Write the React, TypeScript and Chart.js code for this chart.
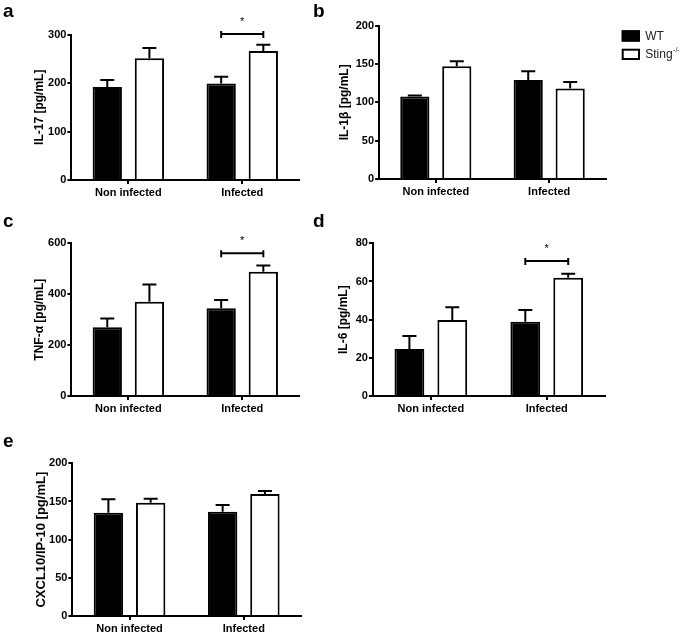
import React, { useEffect, useRef } from "react";
import { Chart, registerables } from "chart.js";

Chart.register(...registerables);

const CATEGORIES = ["Non infected", "Infected"];
const SERIES = ["WT", "Sting"];
const SERIES_SUPERSCRIPT = ["", "-/-"];

const IL17_WT = [192, 199];
const IL17_WT_ERR = [14, 14];
const IL17_KO = [251, 266];
const IL17_KO_ERR = [21, 13];
const IL17_SIG: (number | null)[] = [null, 301];

const IL1B_WT = [107.5, 129];
const IL1B_WT_ERR = [1.5, 11.7];
const IL1B_KO = [147, 118];
const IL1B_KO_ERR = [6.5, 8.4];
const IL1B_SIG: (number | null)[] = [null, null];

const TNF_WT = [270, 345];
const TNF_WT_ERR = [35, 32];
const TNF_KO = [370, 488];
const TNF_KO_ERR = [68, 25];
const TNF_SIG: (number | null)[] = [null, 561];

const IL6_WT = [24.6, 38.9];
const IL6_WT_ERR = [6.8, 6.1];
const IL6_KO = [39.8, 62];
const IL6_KO_ERR = [6.7, 2];
const IL6_SIG: (number | null)[] = [null, 70.7];

const CXCL10_WT = [135.3, 136.6];
const CXCL10_WT_ERR = [17.5, 8.8];
const CXCL10_KO = [148.4, 159.8];
const CXCL10_KO_ERR = [5.2, 3.9];
const CXCL10_SIG: (number | null)[] = [null, null];

const FONT = "'Liberation Sans', Arial, Helvetica, sans-serif";

type PanelDef = {
  letter: string;
  left: number;
  top: number;
  width: number;
  height: number;
  areaLeft: number;
  areaRight: number;
  areaTop: number;
  areaBottom: number;
  titleCenter: number;
  titleSize: number;
  letterY: number;
  yTitle: string;
  yMax: number;
  yStep: number;
  wt: number[];
  wtErr: number[];
  ko: number[];
  koErr: number[];
  sig: (number | null)[];
  legend?: boolean;
};

const PANELS: PanelDef[] = [
  {
    letter: "a", left: 0, top: 0, width: 310, height: 210,
    areaLeft: 71.4, areaRight: 299.2, areaTop: 34.5, areaBottom: 180,
    titleCenter: 40, titleSize: 12, letterY: 17,
    yTitle: "IL-17 [pg/mL]", yMax: 300, yStep: 100,
    wt: IL17_WT, wtErr: IL17_WT_ERR, ko: IL17_KO, koErr: IL17_KO_ERR, sig: IL17_SIG,
  },
  {
    letter: "b", left: 310, top: 0, width: 375, height: 210,
    areaLeft: 69.1, areaRight: 295.9, areaTop: 25.7, areaBottom: 179,
    titleCenter: 34.5, titleSize: 12, letterY: 17,
    yTitle: "IL-1β [pg/mL]", yMax: 200, yStep: 50,
    wt: IL1B_WT, wtErr: IL1B_WT_ERR, ko: IL1B_KO, koErr: IL1B_KO_ERR, sig: IL1B_SIG,
    legend: true,
  },
  {
    letter: "c", left: 0, top: 210, width: 310, height: 210,
    areaLeft: 71.4, areaRight: 299.2, areaTop: 33.3, areaBottom: 186,
    titleCenter: 40, titleSize: 12, letterY: 17,
    yTitle: "TNF-α [pg/mL]", yMax: 600, yStep: 200,
    wt: TNF_WT, wtErr: TNF_WT_ERR, ko: TNF_KO, koErr: TNF_KO_ERR, sig: TNF_SIG,
  },
  {
    letter: "d", left: 310, top: 210, width: 375, height: 210,
    areaLeft: 62.9, areaRight: 294.7, areaTop: 33.3, areaBottom: 186,
    titleCenter: 34, titleSize: 12, letterY: 17,
    yTitle: "IL-6 [pg/mL]", yMax: 80, yStep: 20,
    wt: IL6_WT, wtErr: IL6_WT_ERR, ko: IL6_KO, koErr: IL6_KO_ERR, sig: IL6_SIG,
  },
  {
    letter: "e", left: 0, top: 420, width: 310, height: 213,
    areaLeft: 72.4, areaRight: 300.9, areaTop: 43.3, areaBottom: 196,
    titleCenter: 41, titleSize: 13, letterY: 26.7,
    yTitle: "CXCL10/IP-10 [pg/mL]", yMax: 200, yStep: 50,
    wt: CXCL10_WT, wtErr: CXCL10_WT_ERR, ko: CXCL10_KO, koErr: CXCL10_KO_ERR, sig: CXCL10_SIG,
  },
];

function Panel({ def }: { def: PanelDef }) {
  const ref = useRef<HTMLCanvasElement | null>(null);

  useEffect(() => {
    if (!ref.current) return;
    const errs = [def.wtErr, def.koErr];

    const decorPlugin = {
      id: "decor" + def.letter,
      afterDatasetsDraw(chart: any) {
        const ctx = chart.ctx;
        const yScale = chart.scales.y;
        ctx.save();
        ctx.strokeStyle = "#000";
        ctx.lineWidth = 2;
        chart.data.datasets.forEach((ds: any, i: number) => {
          const meta = chart.getDatasetMeta(i);
          meta.data.forEach((el: any, j: number) => {
            const v = ds.data[j];
            const e = errs[i][j];
            const yv = yScale.getPixelForValue(v);
            const ye = yScale.getPixelForValue(v + e);
            ctx.beginPath();
            ctx.moveTo(el.x, yv);
            ctx.lineTo(el.x, ye);
            ctx.moveTo(el.x - 7, ye);
            ctx.lineTo(el.x + 7, ye);
            ctx.stroke();
          });
        });
        const m0 = chart.getDatasetMeta(0);
        const m1 = chart.getDatasetMeta(1);
        def.sig.forEach((s, j) => {
          if (s === null) return;
          const x0 = m0.data[j].x;
          const x1 = m1.data[j].x;
          const y = yScale.getPixelForValue(s);
          ctx.lineWidth = 2;
          ctx.beginPath();
          ctx.moveTo(x0, y);
          ctx.lineTo(x1, y);
          ctx.moveTo(x0, y - 3);
          ctx.lineTo(x0, y + 4);
          ctx.moveTo(x1, y - 3);
          ctx.lineTo(x1, y + 4);
          ctx.stroke();
          ctx.fillStyle = "#000";
          ctx.font = `11px ${FONT}`;
          ctx.textAlign = "center";
          ctx.textBaseline = "middle";
          ctx.fillText("*", (x0 + x1) / 2, y - 12);
        });
        ctx.restore();
      },
      afterDraw(chart: any) {
        const ctx = chart.ctx;
        ctx.save();
        ctx.fillStyle = "#000";
        ctx.font = `bold 19px ${FONT}`;
        ctx.textAlign = "left";
        ctx.textBaseline = "alphabetic";
        ctx.fillText(def.letter, 3, def.letterY);
        if (def.legend) {
          const bx = 311.7;
          const rows = [30.3, 48.7];
          rows.forEach((ry, i) => {
            ctx.fillStyle = i === 0 ? "#000" : "#fff";
            ctx.fillRect(bx, ry, 18.3, 11.3);
            ctx.strokeStyle = "#000";
            ctx.lineWidth = 2;
            ctx.strokeRect(bx + 1, ry + 1, 16.3, 9.3);
            ctx.fillStyle = "#222";
            ctx.font = `12px ${FONT}`;
            ctx.textBaseline = "middle";
            ctx.fillText(SERIES[i], bx + 23.5, ry + 6);
            if (SERIES_SUPERSCRIPT[i]) {
              const w = ctx.measureText(SERIES[i]).width;
              ctx.font = `7px ${FONT}`;
              ctx.fillText(SERIES_SUPERSCRIPT[i], bx + 23.5 + w + 0.5, ry + 1);
            }
          });
        }
        ctx.restore();
      },
    };

    const titleLine = def.titleSize * 1.2;
    const chart = new Chart(ref.current, {
      type: "bar",
      data: {
        labels: CATEGORIES,
        datasets: [
          {
            label: SERIES[0],
            data: def.wt,
            backgroundColor: "#000",
            borderColor: "#000",
            borderWidth: 2,
            categoryPercentage: 0.74,
            barPercentage: 0.695,
          },
          {
            label: SERIES[1] + SERIES_SUPERSCRIPT[1],
            data: def.ko,
            backgroundColor: "#fff",
            borderColor: "#000",
            borderWidth: 2,
            categoryPercentage: 0.74,
            barPercentage: 0.695,
          },
        ],
      },
      options: {
        responsive: false,
        animation: false,
        events: [],
        layout: {
          padding: {
            left: 0,
            top: def.areaTop,
            right: def.width - def.areaRight,
            bottom: 0,
          },
        },
        plugins: {
          legend: { display: false },
          tooltip: { enabled: false },
          title: { display: false },
        },
        scales: {
          x: {
            type: "category",
            offset: true,
            grid: {
              offset: false,
              drawOnChartArea: false,
              drawTicks: true,
              tickLength: 4,
              tickWidth: 2,
              color: "#000",
              lineWidth: 2,
            },
            border: { display: true, color: "#000", width: 2 },
            ticks: {
              color: "#000",
              padding: 2,
              maxRotation: 0,
              autoSkip: false,
              font: { family: FONT, size: 11, weight: "bold" },
            },
            afterFit: (s: any) => {
              s.height = def.height - def.areaBottom;
            },
          },
          y: {
            type: "linear",
            min: 0,
            max: def.yMax,
            grid: {
              drawOnChartArea: false,
              drawTicks: true,
              tickLength: 4,
              tickWidth: 2,
              color: "#000",
              lineWidth: 2,
            },
            border: { display: true, color: "#000", width: 2 },
            ticks: {
              stepSize: def.yStep,
              color: "#000",
              padding: 1,
              font: { family: FONT, size: 11, weight: "bold" },
            },
            title: {
              display: true,
              text: def.yTitle,
              color: "#000",
              font: { family: FONT, size: def.titleSize, weight: "bold" },
              padding: { top: def.titleCenter - titleLine / 2, bottom: 0 },
            },
            afterFit: (s: any) => {
              s.width = def.areaLeft;
            },
          },
        },
      },
      plugins: [decorPlugin],
    } as any);
    return () => chart.destroy();
  }, [def]);

  return (
    <canvas
      ref={ref}
      width={def.width}
      height={def.height}
      style={{
        position: "absolute",
        left: def.left,
        top: def.top,
        width: def.width,
        height: def.height,
      }}
    />
  );
}

export default function App() {
  return (
    <div
      style={{
        position: "absolute",
        left: 0,
        top: 0,
        width: 685,
        height: 633,
        background: "#fff",
        overflow: "hidden",
      }}
    >
      {PANELS.map((p) => (
        <Panel key={p.letter} def={p} />
      ))}
    </div>
  );
}
